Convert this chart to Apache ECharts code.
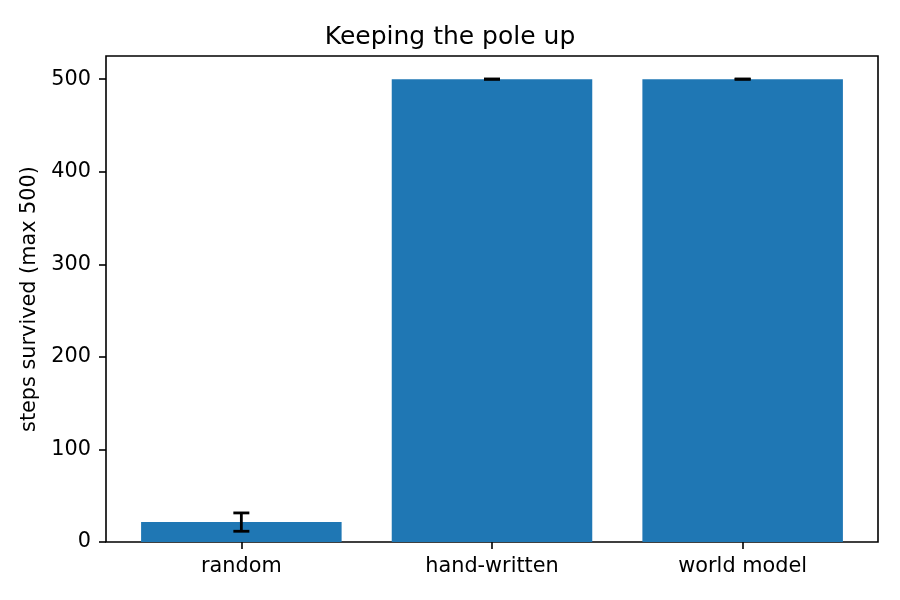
<!DOCTYPE html>
<html><head><meta charset="utf-8">
<script src="https://cdn.jsdelivr.net/npm/echarts@6/dist/echarts.min.js"></script>
<style>html,body{margin:0;padding:0;background:#fff}#c{width:900px;height:600px}</style>
</head><body><div id="c"></div>
<script>
const categories = ['random', 'hand-written', 'world model'];
const means = [21.5, 500, 500];
const stds = [9.9, 0, 0];
const yTicks = [0, 100, 200, 300, 400, 500];

const FONT = 'DejaVu Sans';
const chart = echarts.init(document.getElementById('c'), null, {renderer: 'canvas'});
const barData = means.map((m, i) => [i, m]);
const errData = means.map((m, i) => [i, m - stds[i], m + stds[i]]);

chart.setOption({
  animation: false,
  title: {
    text: 'Keeping the pole up', left: 'center', top: 20,
    textStyle: {fontFamily: FONT, fontSize: 25, fontWeight: 'normal', color: '#000'}
  },
  grid: {left: 106, right: 22, top: 56, bottom: 58, show: true, borderColor: '#000', borderWidth: 1.6, backgroundColor: 'transparent'},
  xAxis: {
    type: 'value', min: -0.54, max: 2.54,
    splitLine: {show: false},
    axisLine: {show: false, onZero: false},
    axisTick: {show: true, length: 7, inside: false, customValues: [0, 1, 2], lineStyle: {color: '#000', width: 1.6}},
    axisLabel: {customValues: [0, 1, 2], margin: 14, formatter: v => categories[Math.round(v)],
      fontFamily: FONT, fontSize: 20.8, color: '#000'}
  },
  yAxis: {
    type: 'value', min: 0, max: 525,
    name: 'steps survived (max 500)', nameLocation: 'middle', nameGap: 57,
    nameTextStyle: {fontFamily: FONT, fontSize: 20.8, color: '#000'},
    splitLine: {show: false},
    axisLine: {show: false, onZero: false},
    axisTick: {show: true, length: 7, inside: false, customValues: yTicks, lineStyle: {color: '#000', width: 1.6}},
    axisLabel: {customValues: yTicks, margin: 15, padding: [6, 0, 0, 0], fontFamily: FONT, fontSize: 20.8, color: '#000'}
  },
  series: [
    {
      type: 'custom', data: barData, z: 2,
      renderItem: (params, api) => {
        const x = api.value(0), y = api.value(1);
        const p1 = api.coord([x - 0.4, y]);
        const p2 = api.coord([x + 0.4, 0]);
        return {type: 'rect', shape: {x: p1[0], y: p1[1], width: p2[0] - p1[0], height: p2[1] - p1[1]},
          style: {fill: '#1f77b4'}};
      }
    },
    {
      type: 'custom', data: errData, z: 3,
      renderItem: (params, api) => {
        const x = api.value(0);
        const lo = api.coord([x, api.value(1)]);
        const hi = api.coord([x, api.value(2)]);
        const cw = 8;
        const st = {stroke: '#000', lineWidth: 2.8};
        return {type: 'group', children: [
          {type: 'line', shape: {x1: lo[0], y1: lo[1], x2: hi[0], y2: hi[1]}, style: st},
          {type: 'line', shape: {x1: lo[0] - cw, y1: lo[1], x2: lo[0] + cw, y2: lo[1]}, style: st},
          {type: 'line', shape: {x1: hi[0] - cw, y1: hi[1], x2: hi[0] + cw, y2: hi[1]}, style: st}
        ]};
      }
    }
  ]
});
</script></body></html>
